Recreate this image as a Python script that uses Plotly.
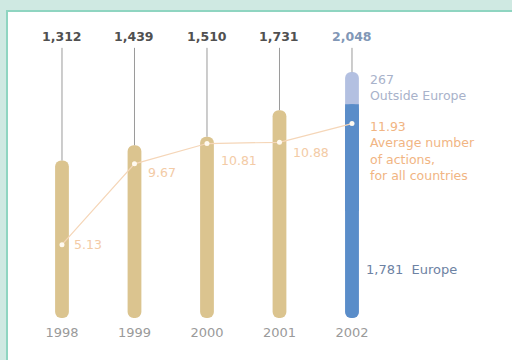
import plotly.graph_objects as go

# ---- data ----
years = [1998, 1999, 2000, 2001, 2002]
total_actions = [1312, 1439, 1510, 1731, 2048]
avg_actions = [5.13, 9.67, 10.81, 10.88, 11.93]
europe_2002 = 1781
outside_europe_2002 = 267
year_labels = ["1998", "1999", "2000", "2001", "2002"]

TAN = "#dbc48f"
BLUE = "#5a8dc9"
LIGHT_BLUE = "#b3c0e1"
ORANGE = "#f1b583"
ORANGE_LIGHT = "#f3cba6"
FONT = "DejaVu Sans, sans-serif"

BAR_W = 0.19
RADIUS = 7
LEADER_TOP = 2250  # level where the leader lines end under the totals

fig = go.Figure()

tan_years = years[:-1]
tan_vals = total_actions[:-1]

# Tan pills (1998-2001)
fig.add_trace(go.Bar(x=tan_years, y=tan_vals, base=[0] * len(tan_vals),
                     width=BAR_W, marker=dict(color=TAN, cornerradius=RADIUS, line_width=0),
                     hoverinfo="skip"))

# 2002: total pill in light blue, Europe share in blue on top of it
fig.add_trace(go.Bar(x=[2002], y=[total_actions[-1]], base=[0],
                     width=BAR_W, marker=dict(color=LIGHT_BLUE, cornerradius=RADIUS, line_width=0),
                     hoverinfo="skip"))
fig.add_trace(go.Bar(x=[2002], y=[europe_2002], base=[0],
                     width=BAR_W, marker=dict(color=BLUE, cornerradius=RADIUS, line_width=0),
                     hoverinfo="skip"))
fig.add_trace(go.Bar(x=[2002], y=[europe_2002 / 2], base=[europe_2002 / 2],
                     width=BAR_W, marker=dict(color=BLUE, line_width=0), hoverinfo="skip"))

# Leader lines from each bar top up to its total label
lx, ly = [], []
for x, v in zip(years, total_actions):
    lx += [x, x, None]
    ly += [v, LEADER_TOP, None]
fig.add_trace(go.Scatter(x=lx, y=ly, mode="lines", line=dict(color="#9a9a9a", width=1),
                         hoverinfo="skip"))

# Average number of actions (secondary axis)
fig.add_trace(go.Scatter(x=years, y=avg_actions, yaxis="y2", mode="lines+markers",
                         line=dict(color="#f5d6b8", width=1.2),
                         marker=dict(color="#fffaf0", size=5, line_width=0),
                         hoverinfo="skip"))

annotations = []
# Totals above bars
for x, v in zip(years, total_actions):
    annotations.append(dict(x=x, y=LEADER_TOP, xref="x", yref="y", yanchor="bottom",
                            text=f"<b>{v:,}</b>", showarrow=False, yshift=2,
                            font=dict(family=FONT, size=12.5,
                                      color="#8197b6" if x == 2002 else "#505050")))

# Average labels next to points (first four)
avg_shift = [(10, 0), (12, -9), (12, -17), (12, -10)]
for (x, v), (dx, dy) in zip(zip(years[:-1], avg_actions[:-1]), avg_shift):
    annotations.append(dict(x=x, y=v, xref="x", yref="y2", xanchor="left", yanchor="middle",
                            text=f"{v:.2f}", showarrow=False, xshift=dx, yshift=dy,
                            font=dict(family=FONT, size=12.5, color=ORANGE_LIGHT)))

# 2002 breakdown labels
annotations.append(dict(x=2002, y=europe_2002 + outside_europe_2002 / 2, xref="x", yref="y",
                        xanchor="left", yanchor="middle", xshift=16, yshift=1,
                        text=f"{outside_europe_2002}<br>Outside Europe", showarrow=False,
                        align="left", font=dict(family=FONT, size=12.5, color="#a8b2ca")))
annotations.append(dict(x=2002, y=avg_actions[-1], xref="x", yref="y2",
                        xanchor="left", yanchor="top", xshift=16, yshift=7,
                        text=f"{avg_actions[-1]:.2f}<br>Average number<br>of actions,<br>for all countries",
                        showarrow=False, align="left",
                        font=dict(family=FONT, size=12.5, color=ORANGE)))
annotations.append(dict(x=2002, y=400, xref="x", yref="y",
                        xanchor="left", yanchor="middle", xshift=12,
                        text=f"{europe_2002:,}  Europe", showarrow=False,
                        font=dict(family=FONT, size=13, color="#6d82a3")))

fig.update_layout(
    width=512, height=360,
    margin=dict(l=0, r=0, t=20, b=42),
    paper_bgcolor="#cfe9e2",
    plot_bgcolor="rgba(0,0,0,0)",
    barmode="overlay",
    showlegend=False,
    xaxis=dict(range=[1997.145, 2004.207], tickvals=years, ticktext=year_labels,
               showgrid=False, zeroline=False, showline=False,
               ticks="outside", ticklen=2, tickcolor="rgba(0,0,0,0)",
               tickfont=dict(family=FONT, size=13, color="#9a9a9a"), fixedrange=True),
    yaxis=dict(range=[0, 2482], visible=False, fixedrange=True),
    yaxis2=dict(range=[1.01, 17.75], overlaying="y", visible=False, fixedrange=True),
    shapes=[dict(type="rect", xref="paper", yref="paper", x0=7 / 512, x1=1.1,
                 y0=-0.3, y1=307 / 298, fillcolor="white",
                 line=dict(color="#8fd5c1", width=2), layer="below")],
    annotations=annotations,
)

fig.write_html("out.html")
